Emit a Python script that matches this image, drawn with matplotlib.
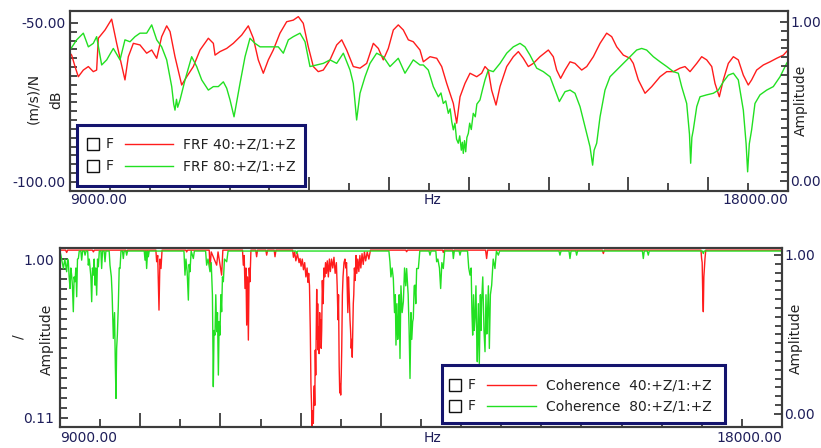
import numpy as np
import matplotlib
matplotlib.use("Agg")
import matplotlib.pyplot as plt
from matplotlib.patches import Rectangle
from matplotlib.lines import Line2D

plt.rcParams['font.family'] = 'DejaVu Sans'
plt.rcParams['axes.unicode_minus'] = False

# frequency range shown (Hz)
x_range = [9000.0, 18000.0]

# FRF 40:+Z/1:+Z  (Hz, dB re (m/s)/N)
frf40 = [(9000, -59.5), (9021, -60.1), (9063, -63.7), (9104, -66.9), (9167, -64.8), (9230, -63.7),
         (9292, -65.3), (9334, -64.8), (9355, -54.8), (9439, -52.2), (9522, -48.8), (9585, -56.4),
         (9689, -67.9), (9731, -60.6), (9794, -56.4), (9877, -56.9), (9961, -59.5), (10024, -58.5),
         (10087, -61.1), (10149, -54.3), (10212, -50.9), (10254, -52.7), (10316, -60.6), (10400, -69.5),
         (10463, -66.9), (10546, -63.7), (10630, -58.5), (10734, -54.8), (10797, -56.4), (10818, -60.1),
         (10880, -59.0), (10964, -58.0), (11047, -56.4), (11152, -53.8), (11235, -50.9), (11298, -54.8),
         (11360, -61.6), (11423, -65.8), (11486, -61.6), (11548, -58.5), (11632, -53.2), (11716, -49.6),
         (11799, -49.1), (11862, -48.0), (11924, -50.1), (11987, -57.5), (12050, -63.7), (12112, -65.3),
         (12175, -64.8), (12259, -61.6), (12343, -56.9), (12406, -55.3), (12468, -58.5), (12551, -63.7),
         (12635, -64.2), (12719, -62.7), (12802, -56.4), (12865, -58.0), (12927, -61.6), (12990, -58.0),
         (13053, -52.2), (13115, -50.6), (13178, -52.2), (13241, -55.3), (13303, -55.9), (13387, -58.5),
         (13429, -62.2), (13513, -60.6), (13597, -61.1), (13659, -63.7), (13722, -69.0), (13805, -75.3),
         (13847, -81.5), (13889, -73.2), (13951, -69.0), (14014, -65.8), (14098, -66.9), (14160, -65.8),
         (14202, -63.7), (14243, -64.8), (14285, -71.1), (14340, -75.8), (14390, -70.0), (14474, -63.7),
         (14557, -60.6), (14620, -59.0), (14682, -61.1), (14745, -63.7), (14808, -62.7), (14891, -60.6),
         (14996, -58.5), (15058, -60.6), (15100, -64.8), (15150, -67.4), (15205, -64.8), (15268, -62.2),
         (15330, -62.7), (15414, -64.8), (15477, -63.7), (15560, -60.6), (15644, -56.4), (15727, -53.2),
         (15790, -54.3), (15853, -57.5), (15936, -60.1), (16020, -61.1), (16061, -62.7), (16124, -67.9),
         (16208, -72.1), (16292, -70.0), (16396, -66.9), (16480, -65.3), (16563, -65.3), (16646, -64.2),
         (16709, -63.7), (16772, -65.3), (16856, -62.7), (16918, -60.6), (16981, -61.6), (17044, -63.7),
         (17085, -69.0), (17139, -73.2), (17189, -67.9), (17252, -62.7), (17315, -60.6), (17377, -61.6),
         (17440, -66.4), (17502, -69.5), (17544, -67.9), (17607, -64.8), (17691, -63.2), (17775, -62.2),
         (17858, -61.1), (17942, -60.1), (18000, -58.5)]

# FRF 80:+Z/1:+Z
frf80 = [(9000, -58.5), (9084, -55.3), (9167, -53.2), (9230, -57.5), (9292, -56.4), (9334, -54.3),
         (9397, -63.2), (9460, -61.6), (9543, -58.0), (9627, -61.6), (9689, -55.3), (9752, -55.9),
         (9815, -54.3), (9877, -53.2), (9961, -53.2), (10024, -50.6), (10087, -55.3), (10149, -57.5),
         (10212, -61.6), (10275, -70.0), (10300, -75.5), (10316, -77.4), (10335, -74.0), (10350, -76.5),
         (10379, -74.2), (10442, -67.9), (10525, -60.6), (10588, -63.7), (10651, -67.9), (10734, -71.1),
         (10797, -70.0), (10859, -70.0), (10922, -68.5), (10964, -70.5), (11006, -74.2), (11056, -79.5),
         (11131, -69.0), (11194, -60.6), (11256, -54.8), (11319, -56.4), (11382, -57.5), (11611, -57.5),
         (11674, -59.5), (11737, -55.3), (11799, -54.3), (11883, -53.2), (11946, -55.9), (12008, -63.7),
         (12092, -63.2), (12175, -62.7), (12259, -61.6), (12343, -62.7), (12426, -59.5), (12510, -64.8),
         (12551, -69.0), (12593, -80.5), (12635, -72.1), (12698, -66.9), (12760, -62.7), (12844, -59.5),
         (12927, -60.6), (13011, -63.7), (13115, -61.1), (13199, -65.8), (13303, -61.6), (13387, -63.2),
         (13429, -63.2), (13491, -64.8), (13554, -70.0), (13617, -73.2), (13650, -72.0), (13679, -75.3),
         (13710, -74.5), (13742, -78.4), (13765, -77.0), (13785, -81.0), (13805, -83.6), (13825, -81.5),
         (13845, -86.5), (13867, -87.8), (13885, -85.5), (13905, -90.0), (13918, -87.5), (13930, -91.0),
         (13945, -87.0), (13960, -90.5), (13975, -86.0), (13993, -84.7), (14010, -81.5), (14030, -83.5),
         (14055, -78.4), (14080, -79.5), (14100, -75.5), (14139, -74.2), (14170, -71.0), (14202, -67.9),
         (14243, -64.8), (14306, -65.3), (14390, -62.7), (14474, -59.5), (14557, -57.5), (14641, -56.4),
         (14703, -57.5), (14766, -60.1), (14850, -64.2), (14933, -65.3), (15017, -66.9), (15080, -71.1),
         (15134, -74.7), (15205, -71.6), (15268, -71.1), (15330, -72.1), (15393, -76.3), (15456, -82.6),
         (15518, -88.9), (15535, -92.0), (15551, -94.7), (15570, -90.0), (15602, -87.8), (15644, -79.5),
         (15706, -71.1), (15769, -66.9), (15853, -64.8), (15936, -62.7), (16020, -60.6), (16103, -58.5),
         (16166, -58.0), (16228, -58.5), (16312, -60.6), (16396, -62.2), (16480, -63.7), (16563, -65.3),
         (16625, -65.8), (16667, -70.0), (16730, -75.3), (16765, -85.0), (16780, -94.1), (16795, -86.0),
         (16813, -83.6), (16856, -76.3), (16897, -73.2), (16981, -72.6), (17064, -72.1), (17127, -71.1),
         (17189, -68.5), (17252, -66.4), (17315, -65.8), (17377, -67.9), (17440, -77.4), (17475, -88.0),
         (17494, -96.8), (17515, -88.0), (17544, -83.6), (17586, -75.3), (17649, -72.6), (17733, -71.1),
         (17816, -70.0), (17900, -66.9), (17983, -62.7), (18000, -62.0)]

# Coherence 40:+Z/1:+Z
coh40 = [(9000, 1.05), (9070, 1.05), (9083, 1.037), (9095, 1.05), (9405, 1.05), (9416, 1.04), (9428, 1.05),
         (9820, 1.05), (9831, 1.037), (9842, 1.05), (10195, 1.05), (10205, 0.985), (10218, 1.02),
         (10234, 0.714), (10246, 1.0), (10259, 0.947), (10272, 1.05), (10570, 1.05), (10579, 1.04),
         (10590, 1.05), (10860, 1.05), (10870, 0.947), (10885, 1.04), (10953, 0.966), (10970, 1.04),
         (11015, 0.91), (11030, 1.05), (11275, 1.05), (11285, 0.966), (11296, 1.02), (11306, 0.835),
         (11318, 0.95), (11327, 0.63), (11338, 0.9), (11348, 0.546), (11358, 0.95), (11368, 0.873),
         (11380, 1.05), (11440, 1.05), (11451, 1.013), (11462, 1.05), (11566, 1.05), (11576, 1.022),
         (11588, 1.05), (11670, 1.05), (11680, 1.013), (11692, 1.05), (11900, 1.05), (11910, 1.01),
         (11925, 1.04), (11940, 0.99), (11960, 1.03), (11980, 0.98), (11992, 1.003), (12005, 0.96),
         (12020, 1.0), (12035, 0.94), (12050, 0.98), (12065, 0.90), (12080, 0.95), (12090, 0.87),
         (12100, 0.92), (12110, 0.85), (12120, 0.6), (12128, 0.3), (12135, 0.19), (12141, 0.06),
         (12146, 0.12), (12152, 0.15), (12158, 0.08), (12164, 0.25), (12170, 0.29), (12176, 0.18),
         (12182, 0.49), (12188, 0.35), (12194, 0.62), (12200, 0.83), (12206, 0.55), (12212, 0.75),
         (12218, 0.49), (12224, 0.62), (12230, 0.47), (12237, 0.7), (12244, 0.55), (12250, 0.66),
         (12256, 0.5), (12262, 0.6), (12270, 0.88), (12280, 0.75), (12290, 0.95), (12300, 0.9),
         (12310, 0.98), (12320, 0.92), (12332, 0.99), (12345, 0.9), (12358, 1.0), (12370, 0.93),
         (12385, 1.0), (12400, 0.95), (12415, 1.01), (12430, 0.92), (12445, 0.98), (12455, 0.85),
         (12465, 0.66), (12472, 0.8), (12480, 0.4), (12487, 0.25), (12493, 0.3), (12499, 0.238),
         (12506, 0.35), (12512, 0.5), (12520, 0.8), (12528, 0.9), (12540, 0.98), (12552, 1.0),
         (12562, 0.95), (12572, 0.98), (12580, 0.85), (12588, 0.7), (12596, 0.9), (12605, 0.8),
         (12615, 0.66), (12622, 0.6), (12630, 0.5), (12637, 0.55), (12643, 0.45), (12650, 0.6),
         (12656, 0.75), (12662, 0.8), (12670, 0.95), (12680, 0.88), (12690, 1.02), (12700, 0.92),
         (12712, 1.0), (12725, 0.93), (12738, 1.02), (12750, 0.95), (12765, 1.03), (12780, 0.97),
         (12795, 1.04), (12810, 0.99), (12830, 1.04), (12850, 1.0), (12870, 1.05), (13310, 1.05),
         (13321, 1.041), (13332, 1.05), (13770, 1.05), (13778, 1.037), (13790, 1.05), (13895, 1.05),
         (13903, 1.041), (13915, 1.05), (14305, 1.05), (14318, 1.003), (14330, 1.05), (15760, 1.05),
         (15773, 1.031), (15786, 1.05), (16990, 1.05), (16998, 1.003), (17005, 0.98), (17012, 0.8),
         (17019, 0.705), (17026, 0.9), (17040, 1.003), (17050, 1.05), (18000, 1.05)]

# Coherence 80:+Z/1:+Z
coh80 = [(9000, 1.045), (9020, 1.0), (9042, 0.947), (9060, 1.0), (9083, 0.929), (9095, 1.0), (9104, 0.985),
         (9114, 0.9), (9125, 0.835), (9135, 0.95), (9145, 0.91), (9155, 0.85), (9166, 0.705), (9176, 0.9),
         (9187, 0.873), (9198, 0.95), (9208, 0.789), (9218, 1.0), (9229, 1.003), (9240, 1.045),
         (9260, 1.045), (9270, 0.994), (9282, 1.045), (9302, 1.045), (9312, 1.022), (9325, 1.045),
         (9345, 1.045), (9353, 0.966), (9365, 1.0), (9385, 0.9), (9395, 0.761), (9405, 0.95), (9416, 0.91),
         (9426, 1.0), (9436, 0.854), (9446, 0.95), (9457, 0.798), (9468, 1.0), (9478, 0.957), (9490, 1.045),
         (9510, 1.045), (9519, 0.947), (9530, 1.045), (9550, 1.045), (9561, 0.985), (9572, 1.045),
         (9613, 1.045), (9623, 0.966), (9640, 0.9), (9650, 0.8), (9665, 0.555), (9680, 0.7), (9690, 0.4),
         (9698, 0.219), (9706, 0.5), (9715, 0.574), (9727, 0.742), (9738, 0.95), (9748, 0.947),
         (9760, 1.045), (9779, 1.045), (9789, 1.003), (9800, 1.045), (9821, 1.045), (9831, 1.022),
         (9842, 1.045), (10050, 1.045), (10060, 0.994), (10070, 1.045), (10080, 0.947), (10092, 1.045),
         (10101, 1.013), (10112, 1.045), (10545, 1.045), (10558, 0.91), (10570, 1.0), (10585, 0.93),
         (10600, 0.77), (10610, 0.97), (10620, 0.929), (10635, 1.045), (10662, 1.003), (10675, 1.045),
         (10815, 1.045), (10828, 0.966), (10845, 1.0), (10870, 0.929), (10885, 0.98), (10900, 0.8),
         (10911, 0.285), (10920, 0.6), (10932, 0.574), (10942, 0.8), (10953, 0.593), (10963, 0.7),
         (10974, 0.35), (10984, 0.65), (10994, 0.574), (11005, 0.8), (11015, 0.705), (11025, 0.9),
         (11036, 0.873), (11050, 1.0), (11078, 0.985), (11095, 1.045), (11940, 1.045), (11950, 1.031),
         (11962, 1.045), (13100, 1.045), (13113, 0.985), (13125, 0.9), (13140, 0.95), (13155, 0.891),
         (13170, 0.7), (13180, 0.8), (13188, 0.518), (13200, 0.75), (13210, 0.55), (13217, 0.611),
         (13228, 0.8), (13238, 0.443), (13250, 0.85), (13265, 0.7), (13280, 0.761), (13295, 0.95),
         (13310, 0.85), (13321, 0.947), (13340, 0.8), (13352, 0.6), (13363, 0.331), (13375, 0.7),
         (13385, 0.55), (13396, 0.649), (13404, 0.667), (13415, 0.85), (13425, 0.854), (13435, 0.75),
         (13446, 0.947), (13467, 0.947), (13485, 1.045), (13600, 1.045), (13612, 1.022), (13625, 1.045),
         (13685, 1.045), (13695, 0.985), (13710, 1.0), (13730, 0.95), (13745, 0.835), (13760, 0.98),
         (13778, 0.947), (13795, 1.045), (13895, 1.045), (13903, 1.003), (13915, 1.045), (13975, 1.045),
         (13986, 1.022), (13998, 1.045), (14080, 1.045), (14095, 0.95), (14111, 0.91), (14125, 0.95),
         (14135, 0.7), (14144, 0.574), (14155, 0.8), (14163, 0.6), (14173, 0.667), (14185, 0.85),
         (14195, 0.55), (14202, 0.425), (14215, 0.75), (14227, 0.415), (14240, 0.8), (14248, 0.6),
         (14256, 0.761), (14270, 0.9), (14285, 0.6), (14298, 0.481), (14310, 0.8), (14320, 0.58),
         (14327, 0.667), (14340, 0.85), (14352, 0.499), (14365, 0.8), (14381, 0.854), (14400, 1.0),
         (14422, 0.947), (14440, 1.045), (14464, 1.022), (14480, 1.045), (15220, 1.045), (15232, 1.022),
         (15245, 1.045), (15345, 1.045), (15357, 1.003), (15370, 1.045), (15430, 1.045), (15440, 1.022),
         (15452, 1.045), (16260, 1.045), (16271, 1.003), (16283, 1.045), (16320, 1.045), (16333, 1.022),
         (16345, 1.045), (17008, 1.045), (17019, 1.031), (17030, 1.045), (18000, 1.045)]

frf_labels = ['FRF 40:+Z/1:+Z', 'FRF 80:+Z/1:+Z']
coh_labels = ['Coherence  40:+Z/1:+Z', 'Coherence  80:+Z/1:+Z']

RED = '#ff1c1c'
GREEN = '#22e022'
FRAME = '#3c3c3c'
TICKTXT = '#1e1e5a'
NAVY = '#14146e'

W, H = 821, 448


def fx(x):
    return x / W


def fy(y):
    return 1 - y / H


def style(ax, side):
    for s in ax.spines.values():
        s.set_color(FRAME)
        s.set_linewidth(1.5)
    ax.tick_params(axis='both', which='both', direction='in', color=FRAME,
                   labelsize=10, labelcolor=TICKTXT, width=1.3)
    ax.tick_params(axis='y', which='major', length=6)
    ax.tick_params(axis='y', which='minor', length=5)
    if side == 'left':
        ax.tick_params(axis='y', left=True, right=False, pad=3.5)
    else:
        ax.tick_params(axis='y', left=False, right=True, labelleft=False,
                       labelright=True, pad=1.5)


def x_axis(ax):
    ax.set_xlim(*x_range)
    ax.set_xticks(np.arange(10000, 18000, 1000))
    ax.set_xticks(np.arange(9500, 18000, 1000), minor=True)
    ax.tick_params(axis='x', which='major', length=10, labelbottom=False, top=False)
    ax.tick_params(axis='x', which='minor', length=6, top=False)


def draw_legend(box, rows, sq_x, f_x, line_x, txt_x, labels):
    x0, y0, x1, y1 = box
    fig.add_artist(Rectangle((fx(x0), fy(y1)), fx(x1) - fx(x0), (y1 - y0) / H,
                             transform=fig.transFigure, facecolor='white',
                             edgecolor=NAVY, lw=2.2, zorder=10))
    for y, lab, col in zip(rows, labels, [RED, GREEN]):
        fig.add_artist(Rectangle((fx(sq_x - 6), fy(y + 6)), 12 / W, 12 / H,
                                 transform=fig.transFigure, fill=False,
                                 edgecolor='#111111', lw=1.0, zorder=11))
        fig.text(fx(f_x), fy(y), 'F', ha='left', va='center', fontsize=10,
                 color='#222222', zorder=11)
        fig.add_artist(Line2D([fx(line_x[0]), fx(line_x[1])], [fy(y), fy(y)],
                              transform=fig.transFigure, color=col, lw=1.0, zorder=11))
        fig.text(fx(txt_x), fy(y), lab, ha='left', va='center', fontsize=10,
                 color='#222222', zorder=11)


fig = plt.figure(figsize=(8.21, 4.48), dpi=100)

# ---------------- FRF panel ----------------
ax1 = fig.add_axes([fx(70), fy(191), fx(788) - fx(70), (191 - 11) / H])
f40 = np.array(frf40)
f80 = np.array(frf80)
ax1.plot(f40[:, 0], f40[:, 1], color=RED, lw=1.0)
ax1.plot(f80[:, 0], f80[:, 1], color=GREEN, lw=1.0)
ax1.set_ylim(-102.83, -46.23)
ax1.set_yticks([-100, -50])
ax1.set_yticklabels(['-100.00', '-50.00'])
ax1.set_yticks(np.linspace(-100, -50, 19)[1:-1], minor=True)
x_axis(ax1)
style(ax1, 'left')

ax1r = ax1.twinx()
ax1r.set_ylim(-0.063, 1.069)
ax1r.set_yticks([0, 1])
ax1r.set_yticklabels(['0.00', '1.00'])
ax1r.set_yticks(np.linspace(0, 1, 19)[1:-1], minor=True)
style(ax1r, 'right')

# ---------------- Coherence panel ----------------
ax2 = fig.add_axes([fx(60), fy(427), fx(782) - fx(60), (427 - 248) / H])
c40 = np.array(coh40)
c80 = np.array(coh80)
ax2.plot(c40[:, 0], c40[:, 1], color=RED, lw=1.0)
ax2.plot(c80[:, 0], c80[:, 1], color=GREEN, lw=1.0)
ax2.set_ylim(0.059, 1.062)
ax2.set_yticks([0.11, 1.0])
ax2.set_yticklabels(['0.11', '1.00'])
ax2.set_yticks(np.linspace(0.11, 1.0, 17)[1:-1], minor=True)
x_axis(ax2)
style(ax2, 'left')
ax2.tick_params(axis='y', pad=4.5)

ax2r = ax2.twinx()
ax2r.set_ylim(-0.082, 1.044)
ax2r.set_yticks([0, 1])
ax2r.set_yticklabels(['0.00', '1.00'])
ax2r.set_yticks(np.linspace(0, 1, 19)[1:-1], minor=True)
style(ax2r, 'right')

# x-axis range labels
for ax, ytxt in [(ax1, 200), (ax2, 438)]:
    pos = ax.get_position()
    fig.text(pos.x0, fy(ytxt), '%.2f' % x_range[0], ha='left', va='center',
             fontsize=10, color=TICKTXT)
    fig.text(pos.x1, fy(ytxt), '%.2f' % x_range[1], ha='right', va='center',
             fontsize=10, color=TICKTXT)
    fig.text(fx(432), fy(ytxt), 'Hz', ha='center', va='center', fontsize=10, color=TICKTXT)

# axis titles
fig.text(fx(33), fy(98), '(m/s)/N', rotation=90, ha='center', va='center', fontsize=10, color='#222222')
fig.text(fx(56), fy(100), 'dB', rotation=90, ha='center', va='center', fontsize=10, color='#222222')
fig.text(fx(801), fy(100), 'Amplitude', rotation=90, ha='center', va='center', fontsize=10, color='#222222')
fig.text(fx(18), fy(337), '/', rotation=90, ha='center', va='center', fontsize=10, color='#222222')
fig.text(fx(47), fy(339), 'Amplitude', rotation=90, ha='center', va='center', fontsize=10, color='#222222')
fig.text(fx(796), fy(338), 'Amplitude', rotation=90, ha='center', va='center', fontsize=10, color='#222222')

# legends
draw_legend((77, 125, 305, 186), [144, 166], 93, 106, (125, 173), 183, frf_labels)
draw_legend((442, 365, 725, 423), [385, 406], 455, 468, (487, 536), 546, coh_labels)

fig.savefig('out.png', dpi=100)
